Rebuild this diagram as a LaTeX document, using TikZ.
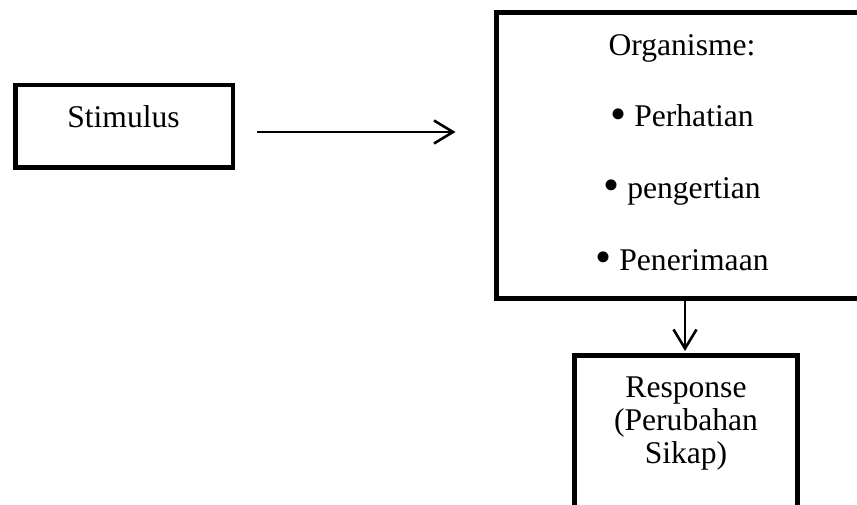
\documentclass[tikz,border=0pt]{standalone}
\usepackage{fontspec}
\setmainfont{Liberation Serif}
\usetikzlibrary{arrows.meta,calc}
\newcommand{\bigbul}{\raisebox{-0.07em}{\scalebox{1.45}{\textbullet}}}
\begin{document}
\begin{tikzpicture}[x=1pt,y=-1pt,
  box/.style={draw=black, line width=#1, rectangle, inner sep=0pt},
  txt/.style={anchor=base, inner sep=0pt, font=\fontsize{31.6}{33}\selectfont},
  arr/.style={line width=2.6pt, -{Straight Barb[length=19pt,width=23pt]}}]
\useasboundingbox (0,0) rectangle (857,505);
\clip (0,0) rectangle (857,505);
% boxes
\node[box=4.5pt, minimum width=217.5pt, minimum height=82.5pt] (stim) at (124,126.5) {};
\node[box=5pt, minimum width=374pt, minimum height=285pt] (org) at (683,155.5) {};
\node[box=5pt, minimum width=223pt, minimum height=174.5pt] (resp) at (686,442.75) {};
% texts
\node[txt] (stimt) at (123.5,127.5) {Stimulus};
\node[txt] (orgt) at (682,55.5) {Organisme:};
\node[txt] (o1) at (682,127) {\bigbul{} Perhatian};
\node[txt] (o2) at (682,198.5) {\bigbul{} pengertian};
\node[txt] (o3) at (682,270) {\bigbul{} Penerimaan};
\node[txt] (r1) at (686,397.5) {Response};
\node[txt] (r2) at (686,430.5) {(Perubahan};
\node[txt] (r3) at (686,463.5) {Sikap)};
% connectors
\draw[arr] ($(stim.east)+(22,5.5)$) -- ($(stim.east -| org.west)+(-38,5.5)$);
\draw[arr] ([xshift=2pt]org.south) -- ([xshift=2pt,yshift=2pt]org.south |- resp.north);
\end{tikzpicture}
\end{document}
